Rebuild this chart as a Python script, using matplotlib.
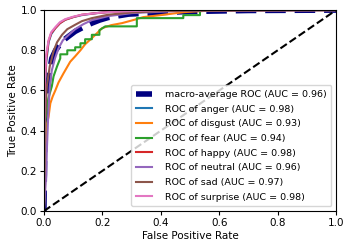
import matplotlib
matplotlib.use("Agg")
import matplotlib.pyplot as plt

# Estimated ROC curve points (fpr, tpr)
macro_fpr = [0.0, 0.003, 0.01, 0.02, 0.027, 0.04, 0.062, 0.085, 0.107, 0.135, 0.164, 0.19, 0.22, 0.29, 0.4, 0.5, 0.7, 1.0]
macro_tpr = [0.0, 0.35, 0.58, 0.70, 0.76, 0.80, 0.844, 0.87, 0.894, 0.915, 0.935, 0.95, 0.963, 0.98, 0.988, 0.993, 0.998, 1.0]

anger_fpr = [0.0, 0.002, 0.008, 0.016, 0.025, 0.039, 0.055, 0.073, 0.1, 0.13, 0.18, 0.22, 0.3, 0.4, 1.0]
anger_tpr = [0.0, 0.55, 0.74, 0.84, 0.88, 0.91, 0.935, 0.952, 0.965, 0.975, 0.985, 0.99, 0.995, 1.0, 1.0]

disgust_fpr = [0.0, 0.006, 0.01, 0.016, 0.022, 0.03, 0.039, 0.05, 0.067, 0.09, 0.107, 0.125, 0.141, 0.16, 0.176, 0.199, 0.23, 0.267, 0.31, 0.34, 0.40, 0.48, 0.6, 1.0]
disgust_tpr = [0.0, 0.25, 0.43, 0.47, 0.536, 0.57, 0.60, 0.64, 0.685, 0.743, 0.77, 0.80, 0.83, 0.855, 0.877, 0.91, 0.925, 0.935, 0.952, 0.965, 0.975, 0.99, 1.0, 1.0]

fear_fpr = [0.0, 0.005, 0.015, 0.027, 0.033, 0.045, 0.056, 0.056, 0.08, 0.08, 0.107, 0.107, 0.125, 0.125, 0.141, 0.141, 0.164, 0.164, 0.19, 0.19, 0.21, 0.318, 0.318, 0.477, 0.477, 0.534, 0.534, 0.6, 1.0]
fear_tpr = [0.0, 0.45, 0.56, 0.62, 0.67, 0.72, 0.76, 0.78, 0.78, 0.80, 0.80, 0.815, 0.815, 0.835, 0.835, 0.855, 0.855, 0.877, 0.877, 0.90, 0.919, 0.919, 0.96, 0.96, 0.975, 0.975, 0.995, 1.0, 1.0]

happy_fpr = [0.0, 0.002, 0.008, 0.016, 0.025, 0.039, 0.055, 0.073, 0.1, 0.13, 0.18, 0.22, 0.3, 0.4, 1.0]
happy_tpr = [0.0, 0.60, 0.76, 0.845, 0.885, 0.91, 0.935, 0.952, 0.965, 0.977, 0.985, 0.99, 0.995, 1.0, 1.0]

neutral_fpr = [0.0, 0.008, 0.01, 0.014, 0.02, 0.027, 0.038, 0.05, 0.065, 0.085, 0.107, 0.135, 0.164, 0.22, 0.3, 0.4, 0.5, 1.0]
neutral_tpr = [0.0, 0.18, 0.30, 0.45, 0.62, 0.70, 0.76, 0.81, 0.85, 0.877, 0.905, 0.93, 0.95, 0.97, 0.985, 0.992, 0.997, 1.0]

sad_fpr = [0.0, 0.004, 0.01, 0.02, 0.033, 0.045, 0.062, 0.08, 0.107, 0.13, 0.164, 0.22, 0.3, 0.4, 1.0]
sad_tpr = [0.0, 0.45, 0.62, 0.72, 0.795, 0.84, 0.877, 0.905, 0.927, 0.945, 0.96, 0.977, 0.988, 0.995, 1.0]

surprise_fpr = [0.0, 0.002, 0.008, 0.016, 0.025, 0.039, 0.055, 0.073, 0.1, 0.13, 0.18, 0.22, 0.3, 0.4, 1.0]
surprise_tpr = [0.0, 0.62, 0.78, 0.85, 0.89, 0.915, 0.94, 0.955, 0.967, 0.977, 0.985, 0.99, 0.995, 1.0, 1.0]

labels = ["anger", "disgust", "fear", "happy", "neutral", "sad", "surprise"]
aucs = [0.98, 0.93, 0.94, 0.98, 0.96, 0.97, 0.98]
macro_auc = 0.96
fprs = [anger_fpr, disgust_fpr, fear_fpr, happy_fpr, neutral_fpr, sad_fpr, surprise_fpr]
tprs = [anger_tpr, disgust_tpr, fear_tpr, happy_tpr, neutral_tpr, sad_tpr, surprise_tpr]
colors = ["#1f77b4", "#ff7f0e", "#2ca02c", "#d62728", "#9467bd", "#8c564b", "#e377c2"]

plt.rcParams['font.family'] = ['DejaVu Sans']
fig = plt.figure(figsize=(3.43, 2.46), dpi=100)
ax = fig.add_axes([0.128, 0.142, 0.852, 0.817])

ax.plot(macro_fpr, macro_tpr, color='navy', linestyle='--', linewidth=4,
        label='macro-average ROC (AUC = {:.2f})'.format(macro_auc))
for f, t, c, lab, a in zip(fprs, tprs, colors, labels, aucs):
    ax.plot(f, t, color=c, linewidth=1.5, label='ROC of {} (AUC = {:.2f})'.format(lab, a))
ax.plot([0, 1], [0, 1], 'k--', linewidth=1.5)

ax.set_xlim(0.0, 1.0)
ax.set_ylim(0.0, 1.0)
ax.set_xlabel('False Positive Rate', fontsize=7.5, labelpad=2)
ax.set_ylabel('True Positive Rate', fontsize=7.5, labelpad=2)
ax.tick_params(labelsize=7.5, length=3, pad=2)
ax.legend(loc='lower right', fontsize=6.8, handlelength=1.7, handletextpad=1.4,
          borderpad=0.5, labelspacing=0.6)

fig.savefig('out.png', dpi=100)
